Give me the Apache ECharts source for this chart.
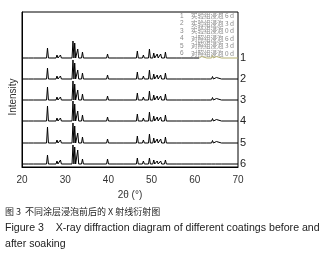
<!DOCTYPE html>
<html><head><meta charset="utf-8">
<script src="https://cdn.jsdelivr.net/npm/echarts@6/dist/echarts.min.js"></script>
<style>html,body{margin:0;padding:0;background:#fff}#c{width:330px;height:266px}</style>
</head><body><div id="c"></div>
<script>
// ---- data ----
const traceNames = ['1','2','3','4','5','6'];
const legendLabels = ['实验组浸泡 6 d','实验组浸泡 3 d','实验组浸泡 0 d','对照组浸泡 6 d','对照组浸泡 3 d','对照组浸泡 0 d'];
// vertical offsets (stacking) of each trace, a.u.
const offsets = [109, 88, 67, 46, 24, 3];
// peak positions (2θ, °)
const peakPos = [21.8, 22.9, 25.9, 28.1, 28.9, 31.8, 32.2, 32.9, 34.0, 35.5, 39.8, 42.0, 43.8, 46.7, 48.1, 49.5, 50.5, 51.3, 52.1, 53.2, 55.9, 57.2, 60.0, 61.6, 63.0, 64.1, 65.0, 66.4];
// peak heights (a.u.) for each trace, same order as peakPos
const peaks1 = [1.5, 1, 10, 3, 3, 17, 15, 9, 6, 1, 4, 1, 1.5, 7, 3, 9, 5, 4, 4, 6, 1, 1, 1, 1.5, 1.5, 2.5, 1.5, 1];
const peaks2 = [1.5, 1, 11, 3, 3, 19, 16, 9, 6, 1, 4, 1, 1.5, 7, 3, 9, 5, 4, 4, 6, 1, 1, 1, 1.5, 1.5, 2.5, 1.5, 1];
const peaks3 = [1.5, 1, 13, 3, 3, 19, 16, 10, 6, 1, 4, 1, 1.5, 7, 3, 9, 5, 4, 4, 6, 1, 1, 1, 1.5, 1.5, 2.5, 1.5, 1];
const peaks4 = [1.5, 1, 15, 3, 3, 20, 17, 10, 6, 1, 4, 1, 1.5, 7, 3, 9, 5, 4, 4, 6, 1, 1, 1, 1.5, 1.5, 2.5, 1.5, 1];
const peaks5 = [1.5, 1, 16, 3, 3, 20, 17, 10, 6, 1, 4, 1, 1.5, 7, 3, 9, 5, 4, 4, 6, 1, 1, 1, 1.5, 1.5, 2.5, 1.5, 1];
const peaks6 = [1.5, 1.5, 9, 3, 4, 19, 17, 14, 5, 1.5, 5, 1, 1.5, 6, 3, 6, 4, 3, 3, 4, 1, 1, 2, 1.5, 1.5, 2, 1.5, 1];
const xTicks = [20, 30, 40, 50, 60, 70];
const xName = '2θ (°)';
const yName = 'Intensity';
const captions = ['图 3  不同涂层浸泡前后的 X 射线衍射图', 'Figure 3    X-ray diffraction diagram of different coatings before and', 'after soaking'];
const trace1ColorSplit = 61; // 2θ where trace 1 turns olive in the picture

// ---- build ----
const allPeaks = [peaks1, peaks2, peaks3, peaks4, peaks5, peaks6];
const hw = 0.22;
function buildLine(heights, base) {
  const pts = [[xTicks[0], base]];
  peakPos.forEach((p, i) => {
    pts.push([p - hw, base]);
    pts.push([p, base + heights[i]]);
    pts.push([p + hw, base]);
  });
  pts.push([xTicks[xTicks.length - 1], base]);
  return pts;
}
const endLabel = (n) => ({ show: true, formatter: n, color: '#222', fontSize: 11, distance: 2, fontFamily: 'Liberation Sans' });
const series = [];
traceNames.forEach((n, i) => {
  const pts = buildLine(allPeaks[i], offsets[i]);
  if (i === 0) {
    const a = pts.filter(p => p[0] <= trace1ColorSplit);
    a.push([trace1ColorSplit, offsets[i]]);
    const b = [[trace1ColorSplit, offsets[i]]].concat(pts.filter(p => p[0] > trace1ColorSplit));
    series.push({ name: n + 'a', type: 'line', data: a, symbol: 'none', silent: true, lineStyle: { color: '#000', width: 1 } });
    series.push({ name: n, type: 'line', data: b, symbol: 'none', silent: true, lineStyle: { color: '#b3ae6e', width: 1 }, endLabel: endLabel(n) });
  } else {
    series.push({ name: n, type: 'line', data: pts, symbol: 'none', silent: true, lineStyle: { color: '#000', width: 1 }, endLabel: endLabel(n) });
  }
});

const chart = echarts.init(document.getElementById('c'), null, { renderer: 'canvas' });
const gfx = [];
legendLabels.forEach((t, i) => {
  gfx.push({ type: 'text', left: 180, top: 12.5 + i * 7.5, style: { text: traceNames[i], fontSize: 6.5, fill: '#8a8a8a', fontFamily: 'Liberation Sans' } });
  gfx.push({ type: 'text', left: 191, top: 12.5 + i * 7.5, style: { text: t, fontSize: 6.5, fill: '#8a8a8a', fontFamily: 'Noto Sans CJK SC' } });
});
captions.forEach((t, i) => {
  gfx.push({ type: 'text', left: 5, top: 207 + i * 16, style: { text: t, fontSize: i === 0 ? 9 : 10.6, fill: '#222', fontFamily: i === 0 ? 'Noto Sans CJK SC' : 'Liberation Sans' } });
});
gfx.push({ type: 'text', x: 13, y: 97, rotation: Math.PI / 2, style: { text: yName, fontSize: 10, fill: '#333', fontFamily: 'Liberation Sans', align: 'center', verticalAlign: 'middle' } });

chart.setOption({
  animation: false,
  grid: { left: 22, right: 92, top: 12, bottom: 99, show: true, borderColor: '#000', borderWidth: 1 },
  xAxis: {
    type: 'value', min: 20, max: 70, interval: 10,
    name: xName, nameLocation: 'middle', nameGap: 23,
    nameTextStyle: { fontSize: 10, color: '#333', fontFamily: 'Liberation Sans' },
    axisLine: { lineStyle: { color: '#000' } },
    axisTick: { show: false },
    axisLabel: { fontSize: 10, color: '#333', margin: 8, fontFamily: 'Liberation Sans' },
    splitLine: { show: false }
  },
  yAxis: {
    type: 'value', min: 0, max: 155,
    axisLine: { show: true, lineStyle: { color: '#000' } },
    axisTick: { show: false }, axisLabel: { show: false }, splitLine: { show: false }
  },
  graphic: gfx,
  series: series
});
</script></body></html>
